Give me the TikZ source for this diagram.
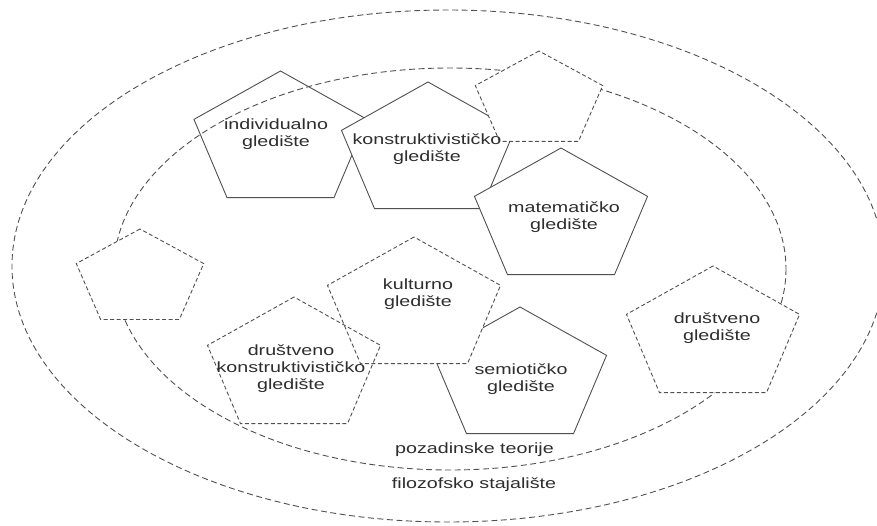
\documentclass[tikz,border=0pt]{standalone}
\usepackage{fontspec}
\setmainfont[FakeStretch=1.33]{Liberation Sans}
\definecolor{linec}{HTML}{505050}
\definecolor{textc}{HTML}{2e2e2e}
\begin{document}
\begin{tikzpicture}[x=1pt,y=-1pt, line width=0.9pt,
  ell/.style={draw=linec, dash pattern=on 6pt off 3.5pt},
  solidp/.style={draw=linec, fill=white},
  dashp/.style={draw=linec, fill=white, dash pattern=on 4pt off 2.5pt},
  dashpn/.style={draw=linec, dash pattern=on 4pt off 2.5pt},
  lbl/.style={text=textc, align=center, font=\fontsize{14.8}{17}\selectfont, inner sep=0pt},
  pics/pent/.style args={#1/#2}{code={\path[pic actions] (0,-#2) -- (-0.951*#1,-0.309*#2) -- (-0.588*#1,0.809*#2) -- (0.588*#1,0.809*#2) -- (0.951*#1,-0.309*#2) -- cycle;}}
]
\useasboundingbox (0,0) rectangle (877,526);
% outer ellipse
\draw[ell] (448,266) ellipse [x radius=436, y radius=256];
% individualno
\pic[solidp] at (280.5,141) {pent=91/70};
% inner ellipse
\draw[ell] (450,269) ellipse [x radius=336, y radius=201];
% konstruktivisticko
\pic[solidp] at (428,152) {pent=91/70};
% small top-right
\pic[dashp] at (539,101) {pent=67/50};
% matematicko
\pic[solidp] at (561,218) {pent=91/70};
% small left
\pic[dashp] at (140,279) {pent=67/50};
% semioticko
\pic[solidp] at (520,377) {pent=91/70};
% kulturno
\pic[dashp] at (414,307) {pent=91/70};
% drustveno konstruktivisticko
\pic[dashpn] at (294,367) {pent=91/70};
% drustveno
\pic[dashp] at (713,336) {pent=91/70};
% labels
\node[lbl] (ind) at (276,134.5) {individualno\\gledište};
\node[lbl] (kon) at (427,149.5) {konstruktivističko\\gledište};
\node[lbl] (mat) at (564,217.5) {matematičko\\gledište};
\node[lbl] (kul) at (418,294) {kulturno\\gledište};
\node[lbl] (dk) at (291,369) {društveno\\konstruktivističko\\gledište};
\node[lbl] (sem) at (521,379.5) {semiotičko\\gledište};
\node[lbl] (dru) at (717,328.5) {društveno\\gledište};
\node[lbl] (poz) at (474.5,450) {pozadinske teorije};
\node[lbl] (fil) at (474,485) {filozofsko stajalište};
\end{tikzpicture}
\end{document}
